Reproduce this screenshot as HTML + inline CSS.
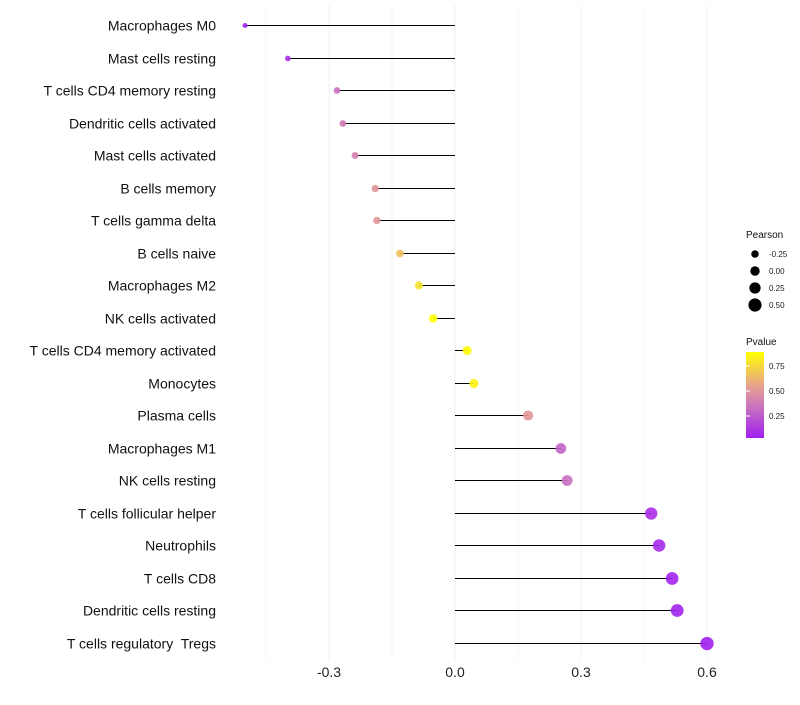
<!DOCTYPE html>
<html><head><meta charset="utf-8"><style>
body{margin:0;background:#fff;font-family:"Liberation Sans",sans-serif;}
text{white-space:pre;}
</style></head><body>
<svg id="chart" width="800" height="700" xmlns="http://www.w3.org/2000/svg" font-family="Liberation Sans, sans-serif">
<defs><linearGradient id="pg" x1="0" y1="1" x2="0" y2="0">
<stop offset="0" stop-color="#A020F0"/><stop offset="0.35" stop-color="#C870C0"/><stop offset="0.6" stop-color="#E8A090"/><stop offset="1" stop-color="#FFFF00"/></linearGradient></defs>
<g id="grid"></g><g id="marks"></g><g id="labels"></g><g id="legend"></g>
</svg>
<script>
const categories=["Macrophages M0","Mast cells resting","T cells CD4 memory resting","Dendritic cells activated","Mast cells activated","B cells memory","T cells gamma delta","B cells naive","Macrophages M2","NK cells activated","T cells CD4 memory activated","Monocytes","Plasma cells","Macrophages M1","NK cells resting","T cells follicular helper","Neutrophils","T cells CD8","Dendritic cells resting","T cells regulatory  Tregs"];
const pearson=[-0.5,-0.398,-0.281,-0.267,-0.238,-0.19,-0.186,-0.131,-0.086,-0.052,0.029,0.045,0.174,0.252,0.267,0.467,0.486,0.517,0.529,0.6];
const pvalue=[0.05,0.1,0.35,0.4,0.45,0.55,0.55,0.7,0.8,0.9,0.88,0.85,0.55,0.3,0.35,0.1,0.08,0.05,0.05,0.04];
const xTicks=[-0.3,0,0.3,0.6];
const xTickLabels=["-0.3","0.0","0.3","0.6"];
const sizeLegend=[-0.25,0,0.25,0.5];
const sizeLegendLabels=["-0.25","0.00","0.25","0.50"];
const colorTicks=[0.25,0.5,0.75];
const colorTickLabels=["0.25","0.50","0.75"];

const NS="http://www.w3.org/2000/svg";
const x=v=>455+v*420;
const y=i=>Math.round(25+i*32.5)+0.5;
const r=v=>4.4+3.8*v;
function hex(h){return [parseInt(h.slice(1,3),16),parseInt(h.slice(3,5),16),parseInt(h.slice(5,7),16)];}
const stops=[[0.04,"#A020F0"],[0.35,"#C870C0"],[0.6,"#E8A090"],[0.89,"#FFFF00"]];
function col(p){p=Math.max(0.04,Math.min(0.89,p));for(let k=0;k<stops.length-1;k++){const[a,ca]=stops[k],[b,cb]=stops[k+1];if(p<=b){const t=(p-a)/(b-a),A=hex(ca),B=hex(cb);return "rgb("+A.map((c,j)=>Math.round(c+(B[j]-c)*t)).join(",")+")";}}return "#FFFF00";}
function mk(tag,attrs,parent,text){const e=document.createElementNS(NS,tag);for(const k in attrs)e.setAttribute(k,attrs[k]);if(text!==undefined)e.textContent=text;document.getElementById(parent).appendChild(e);return e;}

[-0.45,-0.15,0.15,0.45].forEach(v=>{const g=mk("line",{x1:x(v),x2:x(v),y1:5,y2:660,stroke:"#f4f4f4","stroke-width":1},"grid");

});
xTicks.forEach((v,i)=>{const g=mk("line",{x1:x(v),x2:x(v),y1:5,y2:660,stroke:"#f0f0f0","stroke-width":1},"grid");


const t=mk("text",{x:x(v),y:677,"text-anchor":"middle","font-size":14,fill:"#222"},"labels",xTickLabels[i]);

});
categories.forEach((c,i)=>{
const l=mk("line",{x1:x(0),x2:x(pearson[i]),y1:y(i),y2:y(i),stroke:"#000","stroke-width":1},"marks");


const d=mk("circle",{cx:x(pearson[i]),cy:y(i),r:r(pearson[i]),fill:col(pvalue[i]),"fill-opacity":0.9},"marks");


const t=mk("text",{x:216,y:y(i)+5,"text-anchor":"end","font-size":14,fill:"#111"},"labels",c);

});
let t=mk("text",{x:746,y:238,"font-size":10,fill:"#111"},"legend","Pearson");


sizeLegend.forEach((v,i)=>{const cy=254+i*17;const c=mk("circle",{cx:755,cy:cy,r:r(v)+0.3,fill:"#000"},"legend");


const l=mk("text",{x:769,y:cy+3,"font-size":8,fill:"#222"},"legend",sizeLegendLabels[i]);

});
t=mk("text",{x:746,y:345,"font-size":10,fill:"#111"},"legend","Pvalue");


const bar=mk("rect",{x:746,y:352,width:18,height:86,fill:"url(#pg)"},"legend");


colorTicks.forEach((v,i)=>{const cy=441-v*100;const tk=mk("line",{x1:746,x2:750,y1:cy,y2:cy,stroke:"#fff"},"legend");


const l=mk("text",{x:769,y:cy+3,"font-size":8,fill:"#222"},"legend",colorTickLabels[i]);

});
</script>
</body></html>
